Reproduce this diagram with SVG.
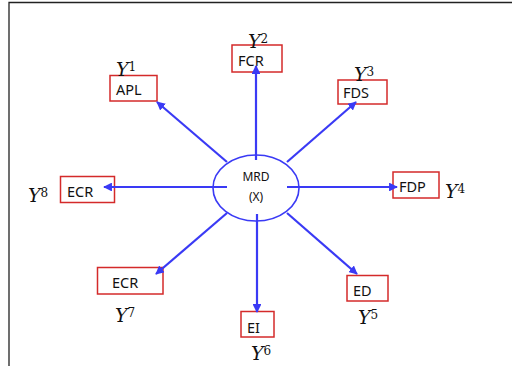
<svg xmlns="http://www.w3.org/2000/svg" width="512" height="366" viewBox="0 0 512 366">
  <defs>
    <marker id="arrow" viewBox="0 0 10 10" refX="9" refY="5" markerWidth="4" markerHeight="4" orient="auto" markerUnits="strokeWidth">
      <path d="M0,0 L10,5 L0,10 z" fill="#3a3af5"/>
    </marker>
  </defs>
  <style>
    .frame { stroke: #222; stroke-width: 1.3; fill: none; }
    .box { fill: none; stroke: #d42a2a; stroke-width: 1.5; }
    .lbl { font-family: "Noto Sans", "Open Sans", sans-serif; font-size: 14.5px; fill: #111; }
    .core { font-family: "Noto Sans", "Open Sans", sans-serif; font-size: 12px; fill: #111; text-anchor: middle; }
    .var { font-family: "DejaVu Serif", "Liberation Serif", serif; font-style: italic; font-size: 19px; fill: #111; }
    .sup { font-family: "DejaVu Serif", "Liberation Serif", serif; font-style: normal; font-size: 12px; }
    .spoke { stroke: #3a3af5; stroke-width: 2.2; fill: none; marker-end: url(#arrow); }
    .ring { fill: none; stroke: #3a3af5; stroke-width: 1.6; }
  </style>

  <!-- page frame -->
  <path class="frame" d="M9,366 L9,2.5 L512,2.5"/>

  <!-- central construct -->
  <g id="center">
    <ellipse class="ring" cx="256" cy="188" rx="43" ry="33"/>
    <text class="core" x="256" y="181">MRD</text>
    <text class="core" x="256" y="201">(X)</text>
  </g>

  <g id="y1">
    <rect class="box" x="110" y="75.5" width="47" height="25.5"/>
    <text class="lbl" x="116" y="95">APL</text>
    <text class="var" x="116" y="76">Y<tspan class="sup" dy="-5">1</tspan></text>
  </g>

  <g id="y2">
    <rect class="box" x="232" y="45" width="50" height="27"/>
    <text class="lbl" x="238" y="66">FCR</text>
    <text class="var" x="248" y="48">Y<tspan class="sup" dy="-5">2</tspan></text>
  </g>

  <g id="y3">
    <rect class="box" x="338" y="80" width="49" height="24"/>
    <text class="lbl" x="343" y="98">FDS</text>
    <text class="var" x="354" y="81">Y<tspan class="sup" dy="-5">3</tspan></text>
  </g>

  <g id="y4">
    <rect class="box" x="393" y="172" width="46" height="26"/>
    <text class="lbl" x="399" y="192">FDP</text>
    <text class="var" x="445" y="198">Y<tspan class="sup" dy="-5">4</tspan></text>
  </g>

  <g id="y5">
    <rect class="box" x="347" y="275.5" width="41" height="25.5"/>
    <text class="lbl" x="353" y="296">ED</text>
    <text class="var" x="358" y="324">Y<tspan class="sup" dy="-5">5</tspan></text>
  </g>

  <g id="y6">
    <rect class="box" x="241" y="311.5" width="33" height="25.5"/>
    <text class="lbl" x="247" y="333">EI</text>
    <text class="var" x="251" y="360">Y<tspan class="sup" dy="-5">6</tspan></text>
  </g>

  <g id="y7">
    <rect class="box" x="97.5" y="267.5" width="65.5" height="26.5"/>
    <text class="lbl" x="112" y="288">ECR</text>
    <text class="var" x="115" y="322">Y<tspan class="sup" dy="-5">7</tspan></text>
  </g>

  <g id="y8">
    <rect class="box" x="60.5" y="176.5" width="54" height="26"/>
    <text class="lbl" x="67" y="197">ECR</text>
    <text class="var" x="28" y="202">Y<tspan class="sup" dy="-5">8</tspan></text>
  </g>

  <!-- spokes from the centre to each outcome -->
  <g id="connectors">
    <line class="spoke" x1="227" y1="162" x2="157" y2="102"/>
    <line class="spoke" x1="256" y1="160" x2="256" y2="66"/>
    <line class="spoke" x1="287" y1="162" x2="356" y2="102"/>
    <line class="spoke" x1="287" y1="187" x2="397" y2="187"/>
    <line class="spoke" x1="287" y1="213" x2="357" y2="274"/>
    <line class="spoke" x1="257" y1="214" x2="257" y2="312"/>
    <line class="spoke" x1="227" y1="213" x2="156" y2="274"/>
    <line class="spoke" x1="227" y1="187" x2="104" y2="187"/>
  </g>
</svg>
